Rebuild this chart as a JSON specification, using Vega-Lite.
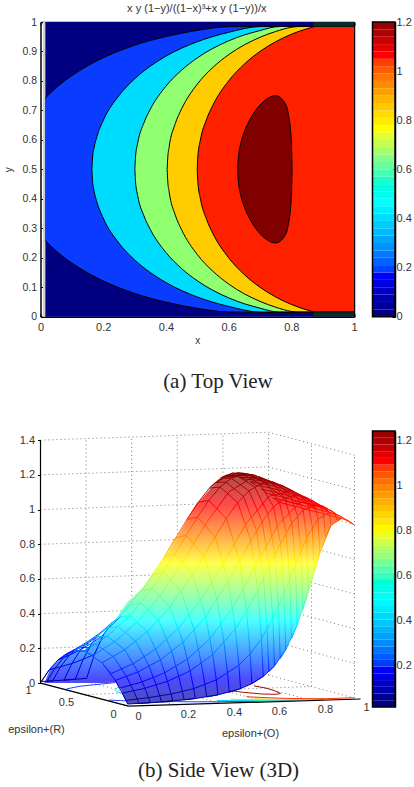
{"$schema":"https://vega.github.io/schema/vega-lite/v6.json","padding":{"left":3.5,"top":2,"right":0,"bottom":0},"background":"white","config":{"view":{"stroke":null},"font":"Liberation Sans","axis":{"grid":false,"labelFont":"Liberation Sans","titleFont":"Liberation Sans","labelFontSize":10.5,"titleFontSize":10,"titleFontWeight":"normal","labelColor":"#333","titleColor":"#333","tickColor":"black","domainColor":"black","domainWidth":1.5,"tickSize":-3,"zindex":1,"format":"~g","labelFlush":false,"labelOverlap":false}},
"datasets":{
"contours":[
{"c":"0.2","x":0.015,"lo":0.2585,"hi":0.7415},{"c":"0.2","x":0.05,"lo":0.223,"hi":0.777},{"c":"0.2","x":0.1,"lo":0.182,"hi":0.818},{"c":"0.2","x":0.15,"lo":0.149,"hi":0.851},{"c":"0.2","x":0.2,"lo":0.1215,"hi":0.8785},{"c":"0.2","x":0.3,"lo":0.079,"hi":0.921},{"c":"0.2","x":0.4,"lo":0.0495,"hi":0.9505},{"c":"0.2","x":0.5,"lo":0.0285,"hi":0.9715},{"c":"0.2","x":0.6,"lo":0.016,"hi":0.984},{"c":"0.2","x":0.7,"lo":0.015,"hi":0.985},{"c":"0.2","x":1,"lo":0.015,"hi":0.985},
{"c":"0.4","x":0.164,"lo":0.5,"hi":0.5},{"c":"0.4","x":0.166,"lo":0.461,"hi":0.539},{"c":"0.4","x":0.17,"lo":0.432,"hi":0.568},{"c":"0.4","x":0.18,"lo":0.389,"hi":0.611},{"c":"0.4","x":0.2,"lo":0.3345,"hi":0.6655},{"c":"0.4","x":0.25,"lo":0.25,"hi":0.75},{"c":"0.4","x":0.3,"lo":0.193,"hi":0.807},{"c":"0.4","x":0.35,"lo":0.15,"hi":0.85},{"c":"0.4","x":0.4,"lo":0.116,"hi":0.884},{"c":"0.4","x":0.5,"lo":0.067,"hi":0.933},{"c":"0.4","x":0.6,"lo":0.035,"hi":0.965},{"c":"0.4","x":0.7,"lo":0.0155,"hi":0.9845},{"c":"0.4","x":0.75,"lo":0.015,"hi":0.985},{"c":"0.4","x":1,"lo":0.015,"hi":0.985},
{"c":"0.6","x":0.301,"lo":0.5,"hi":0.5},{"c":"0.6","x":0.303,"lo":0.459,"hi":0.541},{"c":"0.6","x":0.31,"lo":0.411,"hi":0.589},{"c":"0.6","x":0.33,"lo":0.342,"hi":0.658},{"c":"0.6","x":0.35,"lo":0.2965,"hi":0.7035},{"c":"0.6","x":0.4,"lo":0.218,"hi":0.782},{"c":"0.6","x":0.45,"lo":0.1635,"hi":0.8365},{"c":"0.6","x":0.5,"lo":0.122,"hi":0.878},{"c":"0.6","x":0.6,"lo":0.064,"hi":0.936},{"c":"0.6","x":0.7,"lo":0.029,"hi":0.971},{"c":"0.6","x":0.76,"lo":0.0155,"hi":0.9845},{"c":"0.6","x":0.8,"lo":0.015,"hi":0.985},{"c":"0.6","x":1,"lo":0.015,"hi":0.985},
{"c":"0.8","x":0.404,"lo":0.5,"hi":0.5},{"c":"0.8","x":0.406,"lo":0.459,"hi":0.541},{"c":"0.8","x":0.41,"lo":0.426,"hi":0.574},{"c":"0.8","x":0.43,"lo":0.3445,"hi":0.6555},{"c":"0.8","x":0.45,"lo":0.295,"hi":0.705},{"c":"0.8","x":0.5,"lo":0.211,"hi":0.789},{"c":"0.8","x":0.55,"lo":0.154,"hi":0.846},{"c":"0.8","x":0.6,"lo":0.111,"hi":0.889},{"c":"0.8","x":0.7,"lo":0.052,"hi":0.948},{"c":"0.8","x":0.75,"lo":0.0323,"hi":0.9677},{"c":"0.8","x":0.8,"lo":0.018,"hi":0.982},{"c":"0.8","x":0.83,"lo":0.015,"hi":0.985},{"c":"0.8","x":1,"lo":0.015,"hi":0.985},
{"c":"1","x":0.5,"lo":0.5,"hi":0.5},{"c":"1","x":0.502,"lo":0.455,"hi":0.545},{"c":"1","x":0.51,"lo":0.4005,"hi":0.5995},{"c":"1","x":0.53,"lo":0.3295,"hi":0.6705},{"c":"1","x":0.55,"lo":0.282,"hi":0.718},{"c":"1","x":0.6,"lo":0.2,"hi":0.8},{"c":"1","x":0.65,"lo":0.143,"hi":0.857},{"c":"1","x":0.7,"lo":0.1,"hi":0.9},{"c":"1","x":0.75,"lo":0.067,"hi":0.933},{"c":"1","x":0.8,"lo":0.0417,"hi":0.9583},{"c":"1","x":0.85,"lo":0.023,"hi":0.977},{"c":"1","x":0.88,"lo":0.015,"hi":0.985},{"c":"1","x":1,"lo":0.015,"hi":0.985},
{"c":"1.2","x":0.629,"lo":0.5,"hi":0.5},{"c":"1.2","x":0.63,"lo":0.472,"hi":0.528},{"c":"1.2","x":0.64,"lo":0.4067,"hi":0.5933},{"c":"1.2","x":0.65,"lo":0.373,"hi":0.627},{"c":"1.2","x":0.67,"lo":0.327,"hi":0.673},{"c":"1.2","x":0.7,"lo":0.282,"hi":0.718},{"c":"1.2","x":0.72,"lo":0.2627,"hi":0.7373},{"c":"1.2","x":0.75,"lo":0.25,"hi":0.75},{"c":"1.2","x":0.78,"lo":0.2757,"hi":0.7243},{"c":"1.2","x":0.79,"lo":0.3095,"hi":0.6905},{"c":"1.2","x":0.8,"lo":0.4,"hi":0.6},{"c":"1.2","x":0.8025,"lo":0.5,"hi":0.5}],
"barA":[{"lo":0,"hi":0.03},{"lo":0.03,"hi":0.06},{"lo":0.06,"hi":0.09},{"lo":0.09,"hi":0.12},{"lo":0.12,"hi":0.15},{"lo":0.15,"hi":0.18},{"lo":0.18,"hi":0.21},{"lo":0.21,"hi":0.24},{"lo":0.24,"hi":0.27},{"lo":0.27,"hi":0.3},{"lo":0.3,"hi":0.33},{"lo":0.33,"hi":0.36},{"lo":0.36,"hi":0.39},{"lo":0.39,"hi":0.42},{"lo":0.42,"hi":0.45},{"lo":0.45,"hi":0.48},{"lo":0.48,"hi":0.51},{"lo":0.51,"hi":0.54},{"lo":0.54,"hi":0.57},{"lo":0.57,"hi":0.6},{"lo":0.6,"hi":0.63},{"lo":0.63,"hi":0.66},{"lo":0.66,"hi":0.69},{"lo":0.69,"hi":0.72},{"lo":0.72,"hi":0.75},{"lo":0.75,"hi":0.78},{"lo":0.78,"hi":0.81},{"lo":0.81,"hi":0.84},{"lo":0.84,"hi":0.87},{"lo":0.87,"hi":0.9},{"lo":0.9,"hi":0.93},{"lo":0.93,"hi":0.96},{"lo":0.96,"hi":0.99},{"lo":0.99,"hi":1.02},{"lo":1.02,"hi":1.05},{"lo":1.05,"hi":1.08},{"lo":1.08,"hi":1.11},{"lo":1.11,"hi":1.14},{"lo":1.14,"hi":1.17},{"lo":1.17,"hi":1.2}],
"barB":[{"lo":0.013,"hi":0.043},{"lo":0.043,"hi":0.073},{"lo":0.073,"hi":0.103},{"lo":0.103,"hi":0.133},{"lo":0.133,"hi":0.163},{"lo":0.163,"hi":0.193},{"lo":0.193,"hi":0.223},{"lo":0.223,"hi":0.253},{"lo":0.253,"hi":0.283},{"lo":0.283,"hi":0.313},{"lo":0.313,"hi":0.343},{"lo":0.343,"hi":0.373},{"lo":0.373,"hi":0.403},{"lo":0.403,"hi":0.433},{"lo":0.433,"hi":0.463},{"lo":0.463,"hi":0.493},{"lo":0.493,"hi":0.523},{"lo":0.523,"hi":0.553},{"lo":0.553,"hi":0.583},{"lo":0.583,"hi":0.613},{"lo":0.613,"hi":0.643},{"lo":0.643,"hi":0.673},{"lo":0.673,"hi":0.703},{"lo":0.703,"hi":0.733},{"lo":0.733,"hi":0.763},{"lo":0.763,"hi":0.793},{"lo":0.793,"hi":0.823},{"lo":0.823,"hi":0.853},{"lo":0.853,"hi":0.883},{"lo":0.883,"hi":0.913},{"lo":0.913,"hi":0.943},{"lo":0.943,"hi":0.973},{"lo":0.973,"hi":1.003},{"lo":1.003,"hi":1.033},{"lo":1.033,"hi":1.063},{"lo":1.063,"hi":1.093},{"lo":1.093,"hi":1.123},{"lo":1.123,"hi":1.153},{"lo":1.153,"hi":1.183},{"lo":1.183,"hi":1.213},{"lo":1.213,"hi":1.243}],
"grid":[
{"l":"z0","x":0,"y":0},{"l":"z0","x":228,"y":0.046},{"l":"z0","x":314,"y":-0.0865},
{"l":"z2","x":0,"y":0.2},{"l":"z2","x":228,"y":0.246},{"l":"z2","x":314,"y":0.1135},
{"l":"z4","x":0,"y":0.4},{"l":"z4","x":228,"y":0.446},{"l":"z4","x":314,"y":0.3135},
{"l":"z6","x":0,"y":0.6},{"l":"z6","x":228,"y":0.646},{"l":"z6","x":314,"y":0.5135},
{"l":"z8","x":0,"y":0.8},{"l":"z8","x":228,"y":0.846},{"l":"z8","x":314,"y":0.7135},
{"l":"z10","x":0,"y":1},{"l":"z10","x":228,"y":1.046},{"l":"z10","x":314,"y":0.9135},
{"l":"z12","x":0,"y":1.2},{"l":"z12","x":228,"y":1.246},{"l":"z12","x":314,"y":1.1135},
{"l":"z14","x":0,"y":1.4},{"l":"z14","x":228,"y":1.446},{"l":"z14","x":314,"y":1.3135},
{"l":"a","x":45.6,"y":0.009},{"l":"a","x":45.6,"y":1.409},{"l":"b","x":91.2,"y":0.018},{"l":"b","x":91.2,"y":1.418},{"l":"c","x":136.8,"y":0.028},{"l":"c","x":136.8,"y":1.428},{"l":"d","x":182.4,"y":0.037},{"l":"d","x":182.4,"y":1.437},{"l":"e","x":228,"y":0.046},{"l":"e","x":228,"y":1.446},{"l":"f","x":271,"y":-0.02},{"l":"f","x":271,"y":1.38},{"l":"g","x":314,"y":-0.0865},{"l":"g","x":314,"y":1.3135},
{"l":"h","x":133.2,"y":-0.123},{"l":"h","x":45.6,"y":0.009},{"l":"i","x":178.4,"y":-0.114},{"l":"i","x":91.2,"y":0.018},{"l":"j","x":223.6,"y":-0.105},{"l":"j","x":136.8,"y":0.028},{"l":"k","x":268.8,"y":-0.096},{"l":"k","x":182.4,"y":0.037},{"l":"m","x":44,"y":-0.066},{"l":"m","x":271,"y":-0.02},{"l":"n","x":88,"y":-0.133},{"l":"n","x":0,"y":0}],
"floor":[
{"c":"0.2","l":"a","x":26,"y":-0.034},{"c":"0.2","l":"a","x":38.6,"y":-0.019},{"c":"0.2","l":"a","x":74.8,"y":0.003},
{"c":"0.2","l":"b","x":68.7,"y":-0.098},{"c":"0.2","l":"b","x":79.7,"y":-0.101},{"c":"0.2","l":"b","x":94.6,"y":-0.104},{"c":"0.2","l":"b","x":148.8,"y":-0.108},{"c":"0.2","l":"b","x":174,"y":-0.108},{"c":"0.2","l":"b","x":198.5,"y":-0.106},{"c":"0.2","l":"b","x":222.3,"y":-0.103},{"c":"0.2","l":"b","x":283.3,"y":-0.091},
{"c":"0.4","l":"c","x":78.5,"y":-0.022},{"c":"0.4","l":"c","x":74.7,"y":-0.035},{"c":"0.4","l":"c","x":76.4,"y":-0.05},{"c":"0.4","l":"c","x":81.3,"y":-0.059},{"c":"0.4","l":"c","x":84,"y":-0.063},
{"c":"0.4","l":"d","x":176.4,"y":-0.1},{"c":"0.4","l":"d","x":195.1,"y":-0.101},{"c":"0.4","l":"d","x":220.5,"y":-0.1},{"c":"0.4","l":"d","x":244.9,"y":-0.098},{"c":"0.4","l":"d","x":283.3,"y":-0.091},
{"c":"0.6","l":"e","x":190.3,"y":-0.093},{"c":"0.6","l":"e","x":218,"y":-0.097},{"c":"0.6","l":"e","x":243.6,"y":-0.097},{"c":"0.6","l":"e","x":258.5,"y":-0.096},{"c":"0.6","l":"e","x":283.3,"y":-0.091},
{"c":"0.8","l":"f","x":213.8,"y":-0.09},{"c":"0.8","l":"f","x":241.6,"y":-0.094},{"c":"0.8","l":"f","x":254.7,"y":-0.094},{"c":"0.8","l":"f","x":267.2,"y":-0.093},{"c":"0.8","l":"f","x":283.3,"y":-0.091},
{"c":"1","l":"g","x":206,"y":-0.079},{"c":"1","l":"g","x":237.4,"y":-0.087},{"c":"1","l":"g","x":251.6,"y":-0.089},{"c":"1","l":"g","x":265.1,"y":-0.09},{"c":"1","l":"g","x":278.1,"y":-0.091},{"c":"1","l":"g","x":285.6,"y":-0.09},{"c":"1","l":"g","x":312.7,"y":-0.085},
{"c":"1.2","l":"h","x":213.7,"y":-0.017},{"c":"1.2","l":"h","x":225.4,"y":-0.029},{"c":"1.2","l":"h","x":233.6,"y":-0.043},{"c":"1.2","l":"h","x":240,"y":-0.06},{"c":"1.2","l":"h","x":235.5,"y":-0.065},{"c":"1.2","l":"h","x":221.4,"y":-0.063},{"c":"1.2","l":"h","x":202.1,"y":-0.053},{"c":"1.2","l":"h","x":192,"y":-0.045}],
"envelope":[{"x":4,"up":0,"dn":0},{"x":10,"up":0.087,"dn":0},{"x":18,"up":0.133,"dn":0},{"x":26,"up":0.167,"dn":0},{"x":35,"up":0.184,"dn":0},{"x":44,"up":0.19,"dn":0},{"x":60,"up":0.265,"dn":0},{"x":76,"up":0.375,"dn":0.002},{"x":80,"up":0.41,"dn":-0.03},{"x":87,"up":0.467,"dn":-0.121},{"x":103,"up":0.554,"dn":-0.118},{"x":127,"up":0.75,"dn":-0.112},{"x":155,"up":1.02,"dn":-0.089},{"x":177.5,"up":1.17,"dn":-0.068},{"x":189,"up":1.205,"dn":-0.053},{"x":200,"up":1.21,"dn":-0.032},{"x":211.4,"up":1.198,"dn":-0.003},{"x":222.7,"up":1.178,"dn":0.038},{"x":234,"up":1.158,"dn":0.099},{"x":245.3,"up":1.13,"dn":0.193},{"x":256.6,"up":1.095,"dn":0.334},{"x":267.9,"up":1.058,"dn":0.528},{"x":279.2,"up":1.02,"dn":0.747},{"x":290.5,"up":0.985,"dn":0.91},{"x":301.8,"up":0.95,"dn":0.951},{"x":313,"up":0.915,"dn":0.915}],
"meshU":[{"x":87.1,"y":-0.121},{"x":85.4,"y":-0.1},{"x":81.8,"y":-0.058},{"x":74.8,"y":0.015},{"x":61.6,"y":0.117},{"x":44,"y":0.184},{"x":33.4,"y":0.185},{"x":44.7,"y":0.223},{"x":55.3,"y":0.224},{"x":72.9,"y":0.152},{"x":86.1,"y":0.037},{"x":93.1,"y":-0.045},{"x":96.7,"y":-0.092},{"x":98.4,"y":-0.118},{"x":109.7,"y":-0.113},{"x":108,"y":-0.084},{"x":104.4,"y":-0.03},{"x":97.4,"y":0.064},{"x":84.2,"y":0.192},{"x":66.6,"y":0.27},{"x":56,"y":0.267},{"x":67.3,"y":0.319},{"x":77.9,"y":0.324},{"x":95.5,"y":0.239},{"x":108.7,"y":0.096},{"x":115.7,"y":-0.012},{"x":119.3,"y":-0.075},{"x":121,"y":-0.108},{"x":132.3,"y":-0.103},{"x":130.6,"y":-0.063},{"x":127,"y":0.01},{"x":120,"y":0.134},{"x":106.8,"y":0.296},{"x":89.2,"y":0.388},{"x":78.6,"y":0.38},{"x":89.9,"y":0.451},{"x":100.5,"y":0.461},{"x":118.1,"y":0.361},{"x":131.3,"y":0.18},{"x":138.3,"y":0.037},{"x":141.9,"y":-0.049},{"x":143.6,"y":-0.097},{"x":154.9,"y":-0.089},{"x":153.2,"y":-0.032},{"x":149.6,"y":0.07},{"x":142.6,"y":0.236},{"x":129.4,"y":0.438},{"x":111.8,"y":0.546},{"x":101.2,"y":0.533},{"x":112.5,"y":0.625},{"x":123.1,"y":0.64},{"x":140.7,"y":0.526},{"x":153.9,"y":0.302},{"x":160.9,"y":0.111},{"x":164.5,"y":-0.011},{"x":166.2,"y":-0.08},{"x":177.5,"y":-0.068},{"x":175.8,"y":0.018},{"x":172.2,"y":0.164},{"x":165.2,"y":0.383},{"x":152,"y":0.626},{"x":134.4,"y":0.743},{"x":123.8,"y":0.728},{"x":135.1,"y":0.837},{"x":145.7,"y":0.852},{"x":163.3,"y":0.734},{"x":176.5,"y":0.479},{"x":183.5,"y":0.231},{"x":187.1,"y":0.055},{"x":188.8,"y":-0.053},{"x":200.1,"y":-0.032},{"x":198.4,"y":0.103},{"x":194.8,"y":0.313},{"x":187.8,"y":0.586},{"x":174.6,"y":0.843},{"x":157,"y":0.957},{"x":146.4,"y":0.943},{"x":157.7,"y":1.042},{"x":168.3,"y":1.053},{"x":185.9,"y":0.949},{"x":199.1,"y":0.704},{"x":206.1,"y":0.415},{"x":209.7,"y":0.168},{"x":211.4,"y":-0.003},{"x":222.7,"y":0.038},{"x":221,"y":0.256},{"x":217.4,"y":0.536},{"x":210.4,"y":0.822},{"x":197.2,"y":1.04},{"x":179.6,"y":1.13},{"x":169,"y":1.124},{"x":174.7,"y":1.156},{"x":185.3,"y":1.159},{"x":202.9,"y":1.077},{"x":216,"y":0.879},{"x":223.1,"y":0.602},{"x":226.6,"y":0.311},{"x":228.4,"y":0.066},{"x":234,"y":0.099},{"x":232.3,"y":0.372},{"x":228.7,"y":0.671},{"x":221.7,"y":0.931},{"x":208.5,"y":1.108},{"x":190.9,"y":1.181},{"x":180.3,"y":1.182},{"x":186,"y":1.199},{"x":196.6,"y":1.196},{"x":214.2,"y":1.131},{"x":227.4,"y":0.977},{"x":234.4,"y":0.74},{"x":237.9,"y":0.442},{"x":239.7,"y":0.141},{"x":245.3,"y":0.193},{"x":243.6,"y":0.518},{"x":240,"y":0.806},{"x":233,"y":1.016},{"x":219.8,"y":1.146},{"x":202.2,"y":1.204},{"x":191.6,"y":1.21},{"x":175.8,"y":1.157},{"x":181.5,"y":1.177},{"x":197.3,"y":1.213},{"x":207.9,"y":1.204},{"x":225.5,"y":1.154},{"x":238.7,"y":1.047},{"x":245.7,"y":0.867},{"x":249.2,"y":0.599},{"x":251,"y":0.256},{"x":256.6,"y":0.334},{"x":254.9,"y":0.684},{"x":251.3,"y":0.922},{"x":244.3,"y":1.068},{"x":231.1,"y":1.155},{"x":213.5,"y":1.199},{"x":202.9,"y":1.209},{"x":187.1,"y":1.188},{"x":192.8,"y":1.191},{"x":208.6,"y":1.2},{"x":219.2,"y":1.188},{"x":236.8,"y":1.148},{"x":250,"y":1.08},{"x":257,"y":0.964},{"x":260.5,"y":0.763},{"x":262.3,"y":0.423},{"x":267.9,"y":0.528},{"x":266.2,"y":0.838},{"x":262.6,"y":0.997},{"x":255.6,"y":1.083},{"x":242.4,"y":1.137},{"x":224.8,"y":1.172},{"x":214.2,"y":1.185},{"x":198.4,"y":1.186},{"x":204.1,"y":1.176},{"x":219.9,"y":1.167},{"x":230.5,"y":1.153},{"x":248.1,"y":1.121},{"x":261.3,"y":1.079},{"x":268.3,"y":1.016},{"x":271.8,"y":0.899},{"x":273.6,"y":0.64},{"x":279.2,"y":0.747},{"x":277.5,"y":0.946},{"x":273.9,"y":1.025},{"x":266.9,"y":1.067},{"x":253.7,"y":1.101},{"x":236.1,"y":1.131},{"x":225.5,"y":1.146},{"x":209.7,"y":1.161},{"x":215.4,"y":1.141},{"x":231.2,"y":1.123},{"x":241.8,"y":1.107},{"x":259.4,"y":1.078},{"x":272.6,"y":1.051},{"x":279.6,"y":1.022},{"x":283.1,"y":0.974},{"x":284.9,"y":0.843},{"x":290.5,"y":0.91},{"x":288.8,"y":0.983},{"x":285.2,"y":1.01},{"x":278.2,"y":1.03},{"x":265,"y":1.054},{"x":247.4,"y":1.081},{"x":236.8,"y":1.097},{"x":221,"y":1.118},{"x":226.7,"y":1.094},{"x":242.5,"y":1.071},{"x":253.1,"y":1.055},{"x":270.7,"y":1.028},{"x":283.9,"y":1.008},{"x":290.9,"y":0.994},{"x":294.4,"y":0.98},{"x":296.2,"y":0.942},{"x":301.8,"y":0.951},{"x":300.1,"y":0.962},{"x":296.5,"y":0.971},{"x":289.5,"y":0.983},{"x":276.3,"y":1.003},{"x":258.7,"y":1.03},{"x":248.1,"y":1.045},{"x":232.3,"y":1.068},{"x":238,"y":1.043},{"x":253.8,"y":1.02},{"x":264.4,"y":1.004},{"x":282,"y":0.978},{"x":295.2,"y":0.958},{"x":302.2,"y":0.947},{"x":305.7,"y":0.942},{"x":307.5,"y":0.938},{"x":313,"y":0.915}],
"meshV":[{"x":87.1,"y":-0.121},{"x":109.7,"y":-0.113},{"x":132.3,"y":-0.103},{"x":154.9,"y":-0.089},{"x":177.5,"y":-0.068},{"x":200.1,"y":-0.032},{"x":211.4,"y":-0.003},{"x":222.7,"y":0.038},{"x":234,"y":0.099},{"x":245.3,"y":0.193},{"x":256.6,"y":0.334},{"x":267.9,"y":0.528},{"x":279.2,"y":0.747},{"x":290.5,"y":0.91},{"x":301.8,"y":0.951},{"x":313,"y":0.915},{"x":300.1,"y":0.962},{"x":288.8,"y":0.983},{"x":277.5,"y":0.946},{"x":266.2,"y":0.838},{"x":254.9,"y":0.684},{"x":243.6,"y":0.518},{"x":232.3,"y":0.372},{"x":221,"y":0.256},{"x":209.7,"y":0.168},{"x":198.4,"y":0.103},{"x":175.8,"y":0.018},{"x":153.2,"y":-0.032},{"x":130.6,"y":-0.063},{"x":108,"y":-0.084},{"x":85.4,"y":-0.1},{"x":81.8,"y":-0.058},{"x":104.4,"y":-0.03},{"x":127,"y":0.01},{"x":149.6,"y":0.07},{"x":172.2,"y":0.164},{"x":194.8,"y":0.313},{"x":206.1,"y":0.415},{"x":217.4,"y":0.536},{"x":228.7,"y":0.671},{"x":240,"y":0.806},{"x":251.3,"y":0.922},{"x":262.6,"y":0.997},{"x":273.9,"y":1.025},{"x":285.2,"y":1.01},{"x":296.5,"y":0.971},{"x":282.6,"y":1.02},{"x":260,"y":1.043},{"x":237.4,"y":0.913},{"x":214.8,"y":0.671},{"x":192.2,"y":0.433},{"x":169.6,"y":0.256},{"x":147,"y":0.138},{"x":124.4,"y":0.06},{"x":101.8,"y":0.007},{"x":79.2,"y":-0.029},{"x":74.8,"y":0.015},{"x":97.4,"y":0.064},{"x":120,"y":0.134},{"x":142.6,"y":0.236},{"x":165.2,"y":0.383},{"x":187.8,"y":0.586},{"x":199.1,"y":0.704},{"x":210.4,"y":0.822},{"x":221.7,"y":0.931},{"x":233,"y":1.016},{"x":244.3,"y":1.068},{"x":255.6,"y":1.083},{"x":266.9,"y":1.067},{"x":278.2,"y":1.03},{"x":289.5,"y":0.983},{"x":273.8,"y":1.038},{"x":251.2,"y":1.107},{"x":228.6,"y":1.077},{"x":206,"y":0.922},{"x":183.4,"y":0.697},{"x":160.8,"y":0.484},{"x":138.2,"y":0.317},{"x":115.6,"y":0.197},{"x":93,"y":0.113},{"x":70.4,"y":0.054},{"x":61.6,"y":0.117},{"x":84.2,"y":0.192},{"x":106.8,"y":0.296},{"x":129.4,"y":0.438},{"x":152,"y":0.626},{"x":174.6,"y":0.843},{"x":185.9,"y":0.949},{"x":197.2,"y":1.04},{"x":208.5,"y":1.108},{"x":219.8,"y":1.146},{"x":231.1,"y":1.155},{"x":242.4,"y":1.137},{"x":253.7,"y":1.101},{"x":265,"y":1.054},{"x":276.3,"y":1.003},{"x":256.2,"y":1.068},{"x":233.6,"y":1.157},{"x":211,"y":1.183},{"x":188.4,"y":1.102},{"x":165.8,"y":0.923},{"x":143.2,"y":0.708},{"x":120.6,"y":0.513},{"x":98,"y":0.358},{"x":75.4,"y":0.244},{"x":52.8,"y":0.16},{"x":44,"y":0.184},{"x":66.6,"y":0.27},{"x":89.2,"y":0.388},{"x":111.8,"y":0.546},{"x":134.4,"y":0.743},{"x":157,"y":0.957},{"x":168.3,"y":1.053},{"x":179.6,"y":1.13},{"x":190.9,"y":1.181},{"x":202.2,"y":1.204},{"x":213.5,"y":1.199},{"x":224.8,"y":1.172},{"x":236.1,"y":1.131},{"x":247.4,"y":1.081},{"x":258.7,"y":1.03},{"x":248.1,"y":1.045},{"x":236.8,"y":1.097},{"x":225.5,"y":1.146},{"x":214.2,"y":1.185},{"x":202.9,"y":1.209},{"x":191.6,"y":1.21},{"x":180.3,"y":1.182},{"x":169,"y":1.124},{"x":157.7,"y":1.042},{"x":146.4,"y":0.943},{"x":123.8,"y":0.728},{"x":101.2,"y":0.533},{"x":78.6,"y":0.38},{"x":56,"y":0.267},{"x":33.4,"y":0.185}],
"meshBack":[{"x":0.9,"y":0.009},{"x":8.8,"y":0.077},{"x":17.6,"y":0.134},{"x":26.4,"y":0.17},{"x":35.2,"y":0.187},{"x":44,"y":0.184},{"x":49.7,"y":0.203},{"x":40.8,"y":0.205},{"x":32,"y":0.187},{"x":23.3,"y":0.147},{"x":14.4,"y":0.085},{"x":6.5,"y":0.011},{"x":12.2,"y":0.013},{"x":20,"y":0.094},{"x":28.9,"y":0.161},{"x":37.7,"y":0.205},{"x":46.5,"y":0.226},{"x":57.8,"y":0.27},{"x":49,"y":0.245},{"x":40.2,"y":0.193},{"x":31.4,"y":0.113},{"x":23.5,"y":0.017},{"x":34.8,"y":0.022},{"x":42.7,"y":0.137},{"x":51.5,"y":0.231},{"x":60.3,"y":0.292},{"x":69.1,"y":0.323},{"x":80.4,"y":0.385},{"x":71.6,"y":0.349},{"x":62.8,"y":0.277},{"x":54,"y":0.166},{"x":46.1,"y":0.027},{"x":34.8,"y":0.022},{"x":23.5,"y":0.017},{"x":12.2,"y":0.013},{"x":6.5,"y":0.011},{"x":0.9,"y":0.009},{"x":8.8,"y":0.077},{"x":14.4,"y":0.085},{"x":20,"y":0.094},{"x":31.4,"y":0.113},{"x":42.7,"y":0.137},{"x":54,"y":0.166},{"x":62.8,"y":0.277},{"x":51.5,"y":0.231},{"x":40.2,"y":0.193},{"x":28.9,"y":0.161},{"x":23.3,"y":0.147},{"x":17.6,"y":0.134},{"x":26.4,"y":0.17},{"x":32,"y":0.187},{"x":37.7,"y":0.205},{"x":49,"y":0.245},{"x":60.3,"y":0.292},{"x":71.6,"y":0.349}],
"axes3d":[{"l":"z","x":0,"y":0},{"l":"z","x":0,"y":1.4},{"l":"v","x":0,"y":0},{"l":"v","x":88,"y":-0.133},{"l":"u","x":88,"y":-0.133},{"l":"u","x":320,"y":-0.092}],
"labels3d":[{"t":"0","x":98,"y":-0.196},{"t":"0.2","x":148,"y":-0.185},{"t":"0.4","x":194,"y":-0.173},{"t":"0.6","x":239,"y":-0.167},{"t":"0.8","x":285,"y":-0.156},{"t":"1","x":326,"y":-0.144},{"t":"1","x":-12,"y":-0.046},{"t":"0.5","x":26,"y":-0.115},{"t":"0","x":73,"y":-0.184},{"t":"epsilon+(R)","x":-4,"y":-0.271},{"t":"epsilon+(O)","x":210,"y":-0.294}]
},
"spacing":38,
"vconcat":[
{"spacing":14,"hconcat":[
{"width":313.5,"height":294.7,"resolve":{"axis":{"x":"independent","y":"independent"}},"layer":[
{"data":{"values":[{"x":0.015,"x2":1,"y":0,"y2":1}]},"mark":{"type":"rect","fill":"#000080"},"encoding":{"x":{"field":"x","type":"quantitative","scale":{"domain":[0,1],"nice":false,"zero":false},"axis":{"values":[0,0.2,0.4,0.6,0.8,1],"title":"x","titlePadding":3,"labelPadding":8,"labelFontSize":11}},"x2":{"field":"x2"},"y":{"field":"y","type":"quantitative","scale":{"domain":[0,1],"nice":false,"zero":false},"axis":{"values":[0,0.1,0.2,0.3,0.4,0.5,0.6,0.7,0.8,0.9,1],"title":"y","titlePadding":8,"labelPadding":7}},"y2":{"field":"y2"}}},
{"data":{"values":[{"x":0.008,"x2":0.015,"y":0,"y2":1}]},"mark":{"type":"rect","fill":"#d0d0d0"},"encoding":{"x":{"field":"x","type":"quantitative","axis":null},"x2":{"field":"x2"},"y":{"field":"y","type":"quantitative","axis":null},"y2":{"field":"y2"}}},
{"data":{"name":"contours"},"mark":{"type":"area","interpolate":"monotone"},"encoding":{"x":{"field":"x","type":"quantitative","axis":null},"y":{"field":"lo","type":"quantitative","axis":null},"y2":{"field":"hi"},"color":{"field":"c","type":"nominal","legend":null,"scale":{"domain":["0.2","0.4","0.6","0.8","1","1.2"],"range":["#0a3cff","#00dcff","#90ff70","#ffcc00","#ff2000","#800000"]}}}},
{"data":{"name":"contours"},"mark":{"type":"line","interpolate":"monotone","color":"black","strokeWidth":1},"encoding":{"x":{"field":"x","type":"quantitative","axis":null},"y":{"field":"lo","type":"quantitative","axis":null},"detail":{"field":"c"}}},
{"data":{"name":"contours"},"mark":{"type":"line","interpolate":"monotone","color":"black","strokeWidth":1},"encoding":{"x":{"field":"x","type":"quantitative","axis":null},"y":{"field":"hi","type":"quantitative","axis":null},"detail":{"field":"c"}}},
{"data":{"values":[{"x":0.87,"x2":1,"y":0,"y2":0.015},{"x":0.87,"x2":1,"y":0.985,"y2":1}]},"mark":{"type":"rect","fill":"#0b2b2b"},"encoding":{"x":{"field":"x","type":"quantitative","axis":null},"x2":{"field":"x2"},"y":{"field":"y","type":"quantitative","axis":null},"y2":{"field":"y2"}}},
{"data":{"values":[{"t":"x y (1−y)/((1−x)³+x y (1−y))/x","x":0.4985,"y":1.045}]},"mark":{"type":"text","font":"Liberation Sans","fontSize":11,"color":"#333"},"encoding":{"text":{"field":"t"},"x":{"field":"x","type":"quantitative","axis":{"orient":"top","values":[0,0.2,0.4,0.6,0.8,1],"labels":false,"title":null}},"y":{"field":"y","type":"quantitative","axis":{"orient":"right","values":[0,0.1,0.2,0.3,0.4,0.5,0.6,0.7,0.8,0.9,1],"labels":false,"title":null}}}},
{"data":{"values":[{"t":"(a)  Top View","x":0.566,"y":-0.22}]},"mark":{"type":"text","font":"Liberation Serif","fontSize":21,"color":"#222"},"encoding":{"text":{"field":"t"},"x":{"field":"x","type":"quantitative","axis":null},"y":{"field":"y","type":"quantitative","axis":null}}}
]},
{"width":22.5,"height":294.7,"layer":[
{"data":{"name":"barA"},"mark":{"type":"rect"},"encoding":{"y":{"field":"lo","type":"quantitative","scale":{"domain":[0,1.2],"nice":false,"zero":false},"axis":{"orient":"right","values":[0,0.2,0.4,0.6,0.8,1,1.2],"title":null,"labelPadding":4,"labelFontSize":11}},"y2":{"field":"hi"},"color":{"field":"lo","type":"quantitative","legend":null,"scale":{"domain":[0,0.15,0.45,0.75,1.05,1.2],"range":["#000080","#0000ff","#00ffff","#ffff00","#ff0000","#800000"]}}}},
{"data":{"values":[{"lo":0,"hi":1.2}]},"mark":{"type":"rect","filled":false,"stroke":"black","strokeWidth":1.5},"encoding":{"y":{"field":"lo","type":"quantitative"},"y2":{"field":"hi"}}}
]}]},
{"spacing":1,"hconcat":[
{"width":320,"height":276,"resolve":{"axis":{"y":"independent"}},"layer":[
{"data":{"name":"grid"},"transform":[{"window":[{"op":"row_number","as":"i"}]}],"mark":{"type":"line","color":"#777","strokeWidth":1,"strokeDash":[1,3]},"encoding":{"x":{"field":"x","type":"quantitative","axis":null,"scale":{"domain":[0,320],"nice":false,"zero":false}},"y":{"field":"y","type":"quantitative","scale":{"domain":[-0.138,1.453],"nice":false,"zero":false},"axis":{"values":[0,0.2,0.4,0.6,0.8,1,1.2,1.4],"title":null,"domain":false,"tickSize":3,"labelPadding":3,"labelFontSize":11}},"detail":{"field":"l"},"order":{"field":"i","type":"quantitative"}}},
{"data":{"name":"floor"},"transform":[{"window":[{"op":"row_number","as":"i"}]}],"mark":{"type":"line","strokeWidth":1},"encoding":{"x":{"field":"x","type":"quantitative","axis":null},"y":{"field":"y","type":"quantitative","axis":null},"detail":{"field":"l"},"order":{"field":"i","type":"quantitative"},"color":{"field":"c","type":"nominal","legend":null,"scale":{"domain":["0.2","0.4","0.6","0.8","1","1.2"],"range":["#2040ff","#00dcff","#70ff70","#ffdd00","#ff3000","#a01010"]}}}},
{"data":{"name":"envelope"},"mark":{"type":"area","fill":"white"},"encoding":{"x":{"field":"x","type":"quantitative","axis":null},"y":{"field":"dn","type":"quantitative","axis":null},"y2":{"field":"up"}}},
{"data":{"name":"envelope"},"mark":{"type":"area","opacity":0.7,"color":{"gradient":"linear","x1":0,"y1":1,"x2":0,"y2":0,"stops":[{"offset":0,"color":"#00008f"},{"offset":0.11,"color":"#0000ff"},{"offset":0.36,"color":"#00ffff"},{"offset":0.61,"color":"#ffff00"},{"offset":0.86,"color":"#ff0000"},{"offset":1,"color":"#800000"}]}},"encoding":{"x":{"field":"x","type":"quantitative","axis":null},"y":{"field":"dn","type":"quantitative","axis":null},"y2":{"field":"up"}}},
{"data":{"name":"meshBack"},"transform":[{"window":[{"op":"row_number","as":"i"}]}],"mark":{"type":"line","strokeWidth":1,"stroke":{"gradient":"linear","x1":0,"y1":1,"x2":0,"y2":0,"stops":[{"offset":0,"color":"#000090"},{"offset":0.4,"color":"#0000ff"},{"offset":1,"color":"#0080ff"}]}},"encoding":{"x":{"field":"x","type":"quantitative","axis":null},"y":{"field":"y","type":"quantitative","axis":null},"order":{"field":"i","type":"quantitative"}}},
{"data":{"name":"meshU"},"transform":[{"window":[{"op":"row_number","as":"i"}]}],"mark":{"type":"line","strokeWidth":1,"stroke":{"gradient":"linear","x1":0,"y1":1,"x2":0,"y2":0,"stops":[{"offset":0,"color":"#00008f"},{"offset":0.11,"color":"#0000ff"},{"offset":0.36,"color":"#00ffff"},{"offset":0.61,"color":"#ffff00"},{"offset":0.86,"color":"#ff0000"},{"offset":1,"color":"#800000"}]}},"encoding":{"x":{"field":"x","type":"quantitative","axis":null},"y":{"field":"y","type":"quantitative","axis":null},"order":{"field":"i","type":"quantitative"}}},
{"data":{"name":"meshV"},"transform":[{"window":[{"op":"row_number","as":"i"}]}],"mark":{"type":"line","strokeWidth":1,"stroke":{"gradient":"linear","x1":0,"y1":1,"x2":0,"y2":0,"stops":[{"offset":0,"color":"#00008f"},{"offset":0.11,"color":"#0000ff"},{"offset":0.36,"color":"#00ffff"},{"offset":0.61,"color":"#ffff00"},{"offset":0.86,"color":"#ff0000"},{"offset":1,"color":"#800000"}]}},"encoding":{"x":{"field":"x","type":"quantitative","axis":null},"y":{"field":"y","type":"quantitative","axis":null},"order":{"field":"i","type":"quantitative"}}},
{"data":{"name":"axes3d"},"transform":[{"window":[{"op":"row_number","as":"i"}]}],"mark":{"type":"line","color":"black","strokeWidth":1.2},"encoding":{"x":{"field":"x","type":"quantitative","axis":null},"y":{"field":"y","type":"quantitative","axis":null},"detail":{"field":"l"},"order":{"field":"i","type":"quantitative"}}},
{"data":{"name":"labels3d"},"mark":{"type":"text","font":"Liberation Sans","fontSize":11,"color":"#333"},"encoding":{"text":{"field":"t"},"x":{"field":"x","type":"quantitative","axis":null},"y":{"field":"y","type":"quantitative","axis":null}}},
{"data":{"values":[{"t":"(b)  Side View (3D)","x":178,"y":-0.508}]},"mark":{"type":"text","font":"Liberation Serif","fontSize":21,"color":"#222"},"encoding":{"text":{"field":"t"},"x":{"field":"x","type":"quantitative","axis":null},"y":{"field":"y","type":"quantitative","axis":null}}}
]},
{"width":22.5,"height":276,"layer":[
{"data":{"name":"barB"},"mark":{"type":"rect"},"encoding":{"y":{"field":"lo","type":"quantitative","scale":{"domain":[0.013,1.243],"nice":false,"zero":false},"axis":{"orient":"right","values":[0.2,0.4,0.6,0.8,1,1.2],"title":null,"labelPadding":4,"labelFontSize":11}},"y2":{"field":"hi"},"color":{"field":"lo","type":"quantitative","legend":null,"scale":{"domain":[0.013,0.167,0.474,0.782,1.089,1.243],"range":["#000080","#0000ff","#00ffff","#ffff00","#ff0000","#800000"]}}}},
{"data":{"values":[{"lo":0.013,"hi":1.243}]},"mark":{"type":"rect","filled":false,"stroke":"black","strokeWidth":1.5},"encoding":{"y":{"field":"lo","type":"quantitative"},"y2":{"field":"hi"}}}
]}]}
]}
